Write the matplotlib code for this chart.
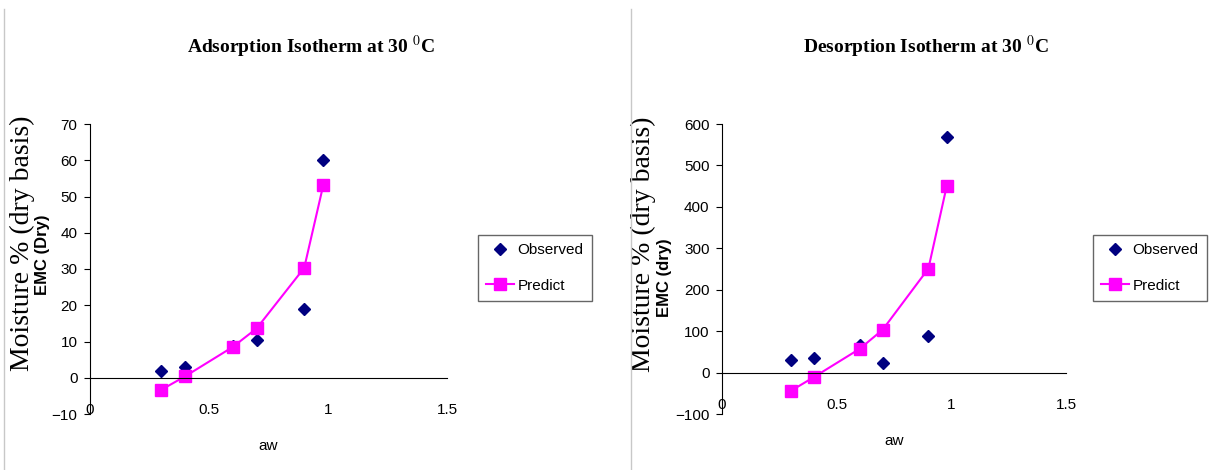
import numpy as np
import matplotlib.pyplot as plt
from matplotlib.lines import Line2D

# water activity
aw = [0.3, 0.4, 0.6, 0.7, 0.9, 0.98]

# adsorption at 30 C
ads_obs = [1.8, 2.9, 8.8, 10.5, 19.1, 60.2]
ads_pred = [-3.3, 0.4, 8.5, 13.6, 30.3, 53.1]

# desorption at 30 C
des_obs = [30.6, 34.7, 66.8, 22.6, 88.5, 568]
des_pred = [-44.2, -11.2, 57.2, 103, 251, 450.5]

xticks = [0, 0.5, 1, 1.5]
xticklabels = ['0', '0.5', '1', '1.5']
ads_yticks = list(range(-10, 71, 10))
des_yticks = list(range(-100, 601, 100))

plt.rcParams['mathtext.fontset'] = 'stix'

W, H = 1209, 470
fig = plt.figure(figsize=(W / 100, H / 100), dpi=100)


def panel(left, width, obs, pred, yticks, title, title_x,
          emc, emc_x, emc_y, moist_x, moist_y, leg_x):
    '''
    left, width : axes position in pixels (top 124, bottom 414)
    *_x : pixel columns for the texts, *_y : axes fractions
    '''
    ax = fig.add_axes([left / W, 1 - 414 / H, width / W, 290 / H])
    ax.plot(aw, obs, linestyle='none', marker='D', color='#000080',
            markersize=6, label='Observed')
    ax.plot(aw, pred, color='#ff00ff', marker='s', markersize=9,
            linewidth=1.5, label='Predict')
    ax.set_xlim(0, 1.5)
    ax.set_ylim(yticks[0], yticks[-1])
    ax.set_xticks(xticks)
    ax.set_xticklabels(xticklabels)
    ax.set_yticks(yticks)
    ax.spines['top'].set_visible(False)
    ax.spines['right'].set_visible(False)
    ax.spines['bottom'].set_position(('data', 0))
    ax.tick_params(axis='y', direction='out', length=4, pad=5,
                   labelsize=11, labelfontfamily='Liberation Sans')
    ax.tick_params(axis='x', direction='out', length=0, pad=18,
                   labelsize=11, labelfontfamily='Liberation Sans')
    ax.set_xlabel('aw', fontsize=11, family='Liberation Sans', labelpad=16)
    fig.text(title_x / W, 1 - 47 / H, title, ha='center', va='center',
             fontsize=14, fontweight='bold', family='Liberation Serif')
    # two overlapping y labels, as in the original
    ax.text((moist_x - left) / width, moist_y, 'Moisture % (dry basis)',
            transform=ax.transAxes, rotation=90, ha='center', va='center',
            fontsize=20, family='Liberation Serif')
    ax.text((emc_x - left) / width, emc_y, emc, transform=ax.transAxes,
            rotation=90, ha='center', va='center', fontsize=12,
            fontweight='bold', family='Liberation Sans')
    leg = ax.legend(loc='upper left', bbox_to_anchor=(leg_x / W, 1 - 235 / H),
                    bbox_transform=fig.transFigure, borderaxespad=0,
                    frameon=True, fancybox=False, edgecolor='#404040',
                    prop={'family': 'Liberation Sans', 'size': 11},
                    handlelength=1.8, handletextpad=0.25, borderpad=0.55,
                    labelspacing=1.4)
    leg.get_frame().set_linewidth(1.0)
    return ax


panel(90, 357, ads_obs, ads_pred, ads_yticks,
      r'Adsorption Isotherm at 30 $^{0}$C', 311,
      'EMC (Dry)', 43, 0.55, 22, 0.59, 478)
panel(722, 344, des_obs, des_pred, des_yticks,
      r'Desorption Isotherm at 30 $^{0}$C', 926,
      'EMC (dry)', 664, 0.47, 643, 0.585, 1093)

# thin grey frame edges of the two pasted charts
fig.add_artist(Line2D([4 / W, 4 / W], [0.0, 0.98], color='#c8c8c8', lw=1))
fig.add_artist(Line2D([631 / W, 631 / W], [0.0, 0.98], color='#c8c8c8', lw=1))

fig.savefig('out.png', dpi=100)
